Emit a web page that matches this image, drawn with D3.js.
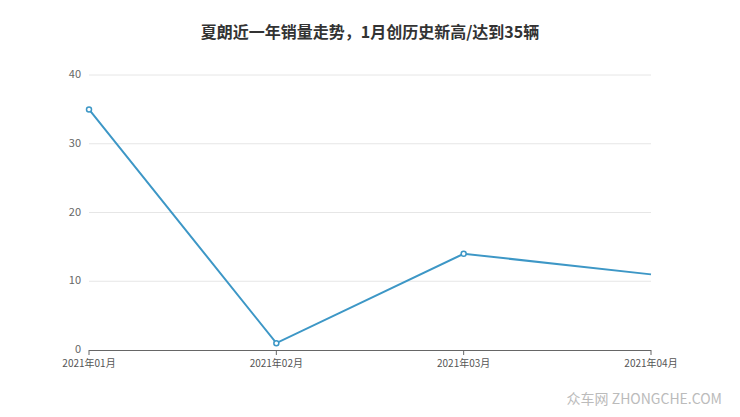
<!DOCTYPE html>
<html><head><meta charset="utf-8">
<script src="https://cdn.jsdelivr.net/npm/d3@7"></script>
<style>body{margin:0;background:#fff;font-family:"Noto Sans CJK SC","Noto Sans",sans-serif}</style>
</head><body><svg id="c" width="740" height="417"></svg>
<script>
const categories=["2021年01月","2021年02月","2021年03月","2021年04月"];
const values=[35,1,14,11];
const yTicks=[0,10,20,30,40];
const title="夏朗近一年销量走势，1月创历史新高/达到35辆";
const svg=d3.select("#c");
const x=d3.scalePoint().domain(categories).range([89,651]);
const y=d3.scaleLinear().domain([0,40]).range([350,75]);
svg.append("text").attr("x",370).attr("y",38).attr("text-anchor","middle").attr("font-size",16).attr("font-weight","bold").attr("fill","#333").text(title);
svg.selectAll(".g").data(yTicks.filter(d=>d>0)).join("line").attr("x1",89).attr("x2",651).attr("y1",d=>y(d)).attr("y2",d=>y(d)).attr("stroke","#e6e6e6");
svg.selectAll(".yl").data(yTicks).join("text").attr("x",81).attr("y",d=>y(d)+3).attr("text-anchor","end").attr("font-size",11).attr("fill","#666").text(d=>d);
svg.append("line").attr("x1",89).attr("x2",651).attr("y1",350.5).attr("y2",350.5).attr("stroke","#666");
svg.selectAll(".xt").data(categories).join("line").attr("x1",d=>x(d)).attr("x2",d=>x(d)).attr("y1",350).attr("y2",355).attr("stroke","#666");
svg.selectAll(".xl").data(categories).join("text").attr("x",d=>x(d)).attr("y",367).attr("text-anchor","middle").attr("font-size",10).attr("fill","#555").text(d=>d);
const data=categories.map((c,i)=>({c,v:values[i],i}));
svg.append("path").datum(data).attr("fill","none").attr("stroke","#3d97c6").attr("stroke-width",2).attr("d",d3.line().x(d=>x(d.c)).y(d=>y(d.v)));
svg.selectAll(".pt").data(data.slice(0,3)).join("circle").attr("cx",d=>x(d.c)).attr("cy",d=>y(d.v)).attr("r",2.5).attr("fill","#fff").attr("stroke","#3d97c6").attr("stroke-width",1.5);
svg.append("text").attr("x",722).attr("y",404).attr("text-anchor","end").attr("font-size",14).attr("fill","#bbb").text("众车网 ZHONGCHE.COM");
</script></body></html>
